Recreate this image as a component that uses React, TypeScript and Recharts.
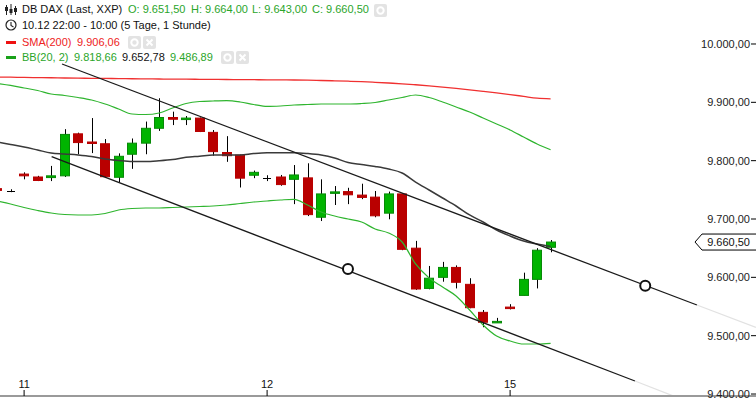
import React from 'react';
import { ComposedChart, Bar, Line, XAxis, YAxis, ReferenceDot, ReferenceLine } from 'recharts';

// hourly candles, DB DAX (Last, XXP)
const opens = [9752, 9748.5, 9777, 9772, 9771, 9774, 9846, 9832, 9829, 9771.5, 9811, 9830, 9855.5, 9874, 9871, 9873, 9848.5, 9814, 9809.5, 9775, 9770, 9772, 9768, 9770.5, 9703, 9745, 9747, 9741, 9737.5, 9710, 9743, 9650, 9581, 9600, 9617, 9588, 9540, 9522, 9549, 9569, 9596.5, 9651.5];
const highs = [9753, 9751, 9780, 9774, 9791, 9854, 9848, 9873, 9837, 9812.5, 9838, 9867, 9907, 9884, 9876.5, 9874, 9852.5, 9842, 9810.5, 9783, 9775, 9775.5, 9792.5, 9795.5, 9768, 9756.5, 9753.5, 9760.5, 9748, 9747, 9743.5, 9662.5, 9619.5, 9626.5, 9620.5, 9598.5, 9544, 9530.5, 9554, 9608, 9650, 9664];
const lows = [9748, 9746, 9768, 9765, 9765, 9772, 9811, 9813, 9771, 9763, 9786, 9811, 9851, 9861, 9861, 9849, 9808.5, 9798, 9754, 9770, 9765, 9757, 9725.5, 9705, 9696.5, 9724, 9725.5, 9734, 9703, 9699.5, 9646.5, 9578.5, 9579.5, 9592.5, 9581, 9547, 9514.5, 9522, 9545, 9569, 9581, 9643];
const closes = [9749, 9748.5, 9774, 9766, 9774, 9845, 9831, 9830, 9772.5, 9807.5, 9830, 9855.5, 9874, 9871, 9873, 9850, 9815.5, 9808.5, 9770, 9780, 9770, 9759, 9775.5, 9707.5, 9743, 9746.5, 9741.5, 9737, 9705.5, 9743, 9648, 9580, 9598.5, 9617, 9591.5, 9548, 9523, 9524.5, 9548.5, 9596.5, 9646.5, 9660.5];

const bbUpper = [9932.3, 9928.9, 9924.6, 9920.3, 9914.3, 9911.7, 9908.3, 9904.0, 9897.1, 9888.6, 9880.0, 9879.1, 9881.7, 9890.3, 9898.0, 9901.4, 9902.3, 9902.8, 9900.6, 9896.3, 9892.9, 9893.7, 9895.4, 9896.3, 9897.1, 9897.1, 9897.1, 9898.0, 9899.7, 9904.0, 9908.3, 9912.6, 9908.3, 9900.6, 9892.0, 9883.4, 9873.1, 9862.9, 9852.6, 9840.6, 9828.6, 9818.66];
const bbMiddle = [9832.0, 9827.7, 9823.4, 9818.3, 9813.1, 9811.4, 9809.7, 9807.1, 9802.9, 9800.3, 9798.6, 9798.6, 9799.9, 9802.0, 9805.8, 9807.7, 9809.7, 9809.7, 9809.7, 9812.3, 9813.7, 9813.7, 9813.7, 9812.3, 9809.7, 9804.6, 9796.9, 9793.4, 9790.0, 9785.7, 9778.9, 9763.4, 9749.7, 9736.0, 9722.3, 9706.9, 9694.9, 9681.1, 9670.9, 9662.3, 9657.1, 9652.78];
const bbLower = [9730.9, 9725.7, 9719.7, 9714.6, 9710.3, 9707.7, 9706.9, 9706.9, 9709.4, 9715.4, 9718.0, 9718.9, 9718.9, 9719.7, 9720.6, 9721.4, 9722.3, 9724.0, 9726.6, 9729.1, 9730.9, 9732.6, 9733.8, 9724.0, 9712.0, 9705.1, 9700.0, 9694.9, 9682.9, 9676.0, 9660.6, 9622.9, 9598.9, 9583.4, 9568.0, 9544.0, 9518.3, 9499.4, 9490.9, 9485.7, 9485.7, 9486.89];
const sma200 = [9943.4, 9943.1, 9942.7, 9942.4, 9942.1, 9941.7, 9941.4, 9941.2, 9940.9, 9940.7, 9940.4, 9940.2, 9940.0, 9939.8, 9939.7, 9939.5, 9939.3, 9939.1, 9939.0, 9938.8, 9938.6, 9938.5, 9938.3, 9937.9, 9937.4, 9936.9, 9936.2, 9935.4, 9934.3, 9933.1, 9931.8, 9930.1, 9928.2, 9926.1, 9923.9, 9921.5, 9918.9, 9916.2, 9913.3, 9910.2, 9907.1, 9906.06];

const dayTicks = [2, 20, 38];
const dayLabels = ['11', '12', '15'];
const priceTicks = [9400, 9500, 9600, 9700, 9800, 9900, 10000];

// hand-drawn trend channel (index, price)
const upperChannel = [{ i: 4.81, p: 9965.7 }, { i: 51.84, p: 9552.6 }];
const upperChannelFade = [{ i: 51.84, p: 9552.6 }, { i: 56.21, p: 9514 }];
const lowerChannel = [{ i: 4.04, p: 9806.8 }, { i: 47.25, p: 9422.3 }];
const lowerChannelFade = [{ i: 47.25, p: 9422.3 }, { i: 52.07, p: 9378.8 }];
const channelHandles = [{ i: 25.99, p: 9614.3 }, { i: 48.01, p: 9585.7 }];

const last = opens.length - 1;
const GREEN_TXT = '#2aa52a';
const RED_TXT = '#ee2222';
const BODY_W = 10;

const rows = opens.map((o, i) => ({
  i,
  open: o,
  high: highs[i],
  low: lows[i],
  close: closes[i],
  range: [lows[i], highs[i]],
  upper: bbUpper[i],
  middle: bbMiddle[i],
  lower: bbLower[i],
  sma: sma200[i],
}));

function fmt(v: number) {
  const [int, dec] = v.toFixed(2).split('.');
  return int.replace(/\B(?=(\d{3})+(?!\d))/g, '.') + ',' + dec;
}

function Candle(props: any) {
  const { x, y, width, height, payload } = props;
  if (x == null || !payload) return null;
  const { open, close, high, low } = payload;
  const top = Math.min(y, y + height);
  const h = Math.abs(height);
  const span = high - low || 1;
  const py = (v: number) => top + ((high - v) / span) * h;
  const cx = Math.round(x + (width || 0) / 2) + 0.5;
  const left = cx - 0.5 - BODY_W / 2;

  if (open === close) {
    const yy = Math.round(py(open)) + 0.5;
    return (
      <g>
        <line x1={cx} x2={cx} y1={py(high)} y2={py(low)} stroke="#000" />
        <line x1={left + 1} x2={left + BODY_W - 1} y1={yy} y2={yy} stroke="#000" />
      </g>
    );
  }
  const up = close > open;
  const bTop = py(Math.max(open, close));
  const bBot = py(Math.min(open, close));
  const bh = Math.max(1.5, bBot - bTop);
  return (
    <g>
      <line x1={cx} x2={cx} y1={py(high)} y2={py(low)} stroke="#000" />
      <rect
        x={left + 0.5}
        y={bTop}
        width={BODY_W - 1}
        height={bh}
        fill={up ? '#00b400' : '#b90000'}
        stroke={up ? '#078a07' : '#b90000'}
        strokeWidth={1}
      />
    </g>
  );
}

function PriceTag(props: any) {
  const vb = props.viewBox || {};
  const y = vb.y;
  const right = vb.x + vb.width;
  if (y == null) return null;
  const tip = right - 61;
  const d = `M${tip},${y} L${tip + 7},${y - 8} L${right + 2},${y - 8} L${right + 2},${y + 8} L${tip + 7},${y + 8} Z`;
  return (
    <g>
      <path d={d} fill="#fff" stroke="#000" strokeWidth={1} />
      <text x={right - 6} y={y} dy="0.36em" textAnchor="end" fontSize={11} fill="#111">
        {fmt(closes[last])}
      </text>
    </g>
  );
}

function Btn({ left, top, kind }: { left: number; top: number; kind: 'ring' | 'x' }) {
  return (
    <svg style={{ position: 'absolute', left, top }} width={13} height={13}>
      <rect x={0} y={0} width={13} height={13} rx={2} fill="#e3e3e3" />
      {kind === 'ring' ? (
        <circle cx={6.5} cy={6.5} r={3.2} fill="none" stroke="#fff" strokeWidth={2} />
      ) : (
        <path d="M3.5,3.5 L9.5,9.5 M9.5,3.5 L3.5,9.5" stroke="#fff" strokeWidth={2} />
      )}
    </svg>
  );
}

function Header() {
  const t = (left: number, top: number, color: string, text: string) => (
    <span style={{ position: 'absolute', left, top, color, whiteSpace: 'nowrap' }}>{text}</span>
  );
  return (
    <div
      style={{
        position: 'absolute',
        left: 0,
        top: 0,
        width: 420,
        height: 70,
        fontSize: 11,
        lineHeight: '16px',
        pointerEvents: 'none',
      }}
    >
      <svg style={{ position: 'absolute', left: 5, top: 4 }} width={12} height={12}>
        <path d="M1.5,1 V11 M6,0 V11 M10.5,2 V11" stroke="#222" strokeWidth={1} />
        <rect x={0} y={3} width={3} height={4} fill="#222" />
        <rect x={4.5} y={5} width={3} height={4} fill="#222" />
        <rect x={9} y={4} width={3} height={4} fill="#222" />
      </svg>
      {t(22, 1, '#111', 'DB DAX (Last, XXP)')}
      {t(128, 1, GREEN_TXT, 'O: ' + fmt(opens[last]))}
      {t(191, 1, GREEN_TXT, 'H: ' + fmt(highs[last]))}
      {t(252, 1, GREEN_TXT, 'L: ' + fmt(lows[last]))}
      {t(312, 1, GREEN_TXT, 'C: ' + fmt(closes[last]))}
      <Btn left={374} top={4} kind="ring" />

      <svg style={{ position: 'absolute', left: 5, top: 19 }} width={12} height={12}>
        <circle cx={6} cy={6} r={5} fill="none" stroke="#222" strokeWidth={1.2} />
        <path d="M6,3 V6.5 L8.5,8" fill="none" stroke="#222" strokeWidth={1.1} />
      </svg>
      {t(22, 17, '#111', '10.12 22:00 - 10:00 (5 Tage, 1 Stunde)')}

      <div style={{ position: 'absolute', left: 6, top: 41, width: 10, height: 3, background: '#ee1111' }} />
      {t(22, 34, RED_TXT, 'SMA(200)')}
      {t(77, 34, RED_TXT, fmt(sma200[last]))}
      <Btn left={128} top={36} kind="ring" />
      <Btn left={143} top={36} kind="x" />

      <div style={{ position: 'absolute', left: 6, top: 56, width: 10, height: 3, background: '#19a119' }} />
      {t(22, 49, GREEN_TXT, 'BB(20, 2)')}
      {t(74, 49, GREEN_TXT, fmt(bbUpper[last]))}
      {t(122, 49, '#111', fmt(bbMiddle[last]))}
      {t(170, 49, GREEN_TXT, fmt(bbLower[last]))}
      <Btn left={221} top={51} kind="ring" />
      <Btn left={236} top={51} kind="x" />
    </div>
  );
}

const lineCommon = { dot: false, activeDot: false, isAnimationActive: false } as const;

export default function App() {
  return (
    <div
      style={{
        position: 'absolute',
        left: 0,
        top: 0,
        width: 756,
        height: 398,
        background: '#fff',
        fontFamily: '"Liberation Sans", Arial, sans-serif',
        overflow: 'hidden',
      }}
    >
      <ComposedChart width={756} height={398} data={rows} margin={{ top: 0, right: 0, left: 0, bottom: 2 }}>
        <XAxis
          dataKey="i"
          type="number"
          domain={[0.215, 56.215]}
          allowDataOverflow
          ticks={dayTicks}
          interval={0}
          tickFormatter={(v: number) => dayLabels[dayTicks.indexOf(v)] ?? ''}
          mirror
          tickSize={6}
          tickMargin={2}
          tickLine={{ stroke: '#000' }}
          axisLine={{ stroke: '#9a9a9a', strokeWidth: 2 }}
          tick={{ fontSize: 11, fill: '#111' }}
        />
        <YAxis
          orientation="right"
          type="number"
          domain={[9396.6, 10075.4]}
          allowDataOverflow
          ticks={priceTicks}
          interval={0}
          tickFormatter={fmt}
          mirror
          width={60}
          tickSize={5}
          tickMargin={1}
          axisLine={false}
          tickLine={{ stroke: '#000' }}
          tick={{ fontSize: 11, fill: '#222' }}
        />
        <Bar dataKey="range" barSize={10} shape={(p: any) => <Candle {...p} />} isAnimationActive={false} />
        <Line dataKey="sma" type="monotone" stroke="#f03030" strokeWidth={1.3} {...lineCommon} />
        <Line dataKey="upper" type="monotone" stroke="#2fb52f" strokeWidth={1.2} {...lineCommon} />
        <Line dataKey="lower" type="monotone" stroke="#2fb52f" strokeWidth={1.2} {...lineCommon} />
        <Line dataKey="middle" type="monotone" stroke="#3a3a3a" strokeWidth={1.5} {...lineCommon} />
        <Line data={upperChannel} dataKey="p" type="linear" stroke="#1a1a1a" strokeWidth={1.3} {...lineCommon} />
        <Line data={upperChannelFade} dataKey="p" type="linear" stroke="#e2e2e2" strokeWidth={1.3} {...lineCommon} />
        <Line data={lowerChannel} dataKey="p" type="linear" stroke="#1a1a1a" strokeWidth={1.3} {...lineCommon} />
        <Line data={lowerChannelFade} dataKey="p" type="linear" stroke="#e2e2e2" strokeWidth={1.3} {...lineCommon} />
        {channelHandles.map((h, k) => (
          <ReferenceDot key={k} x={h.i} y={h.p} r={5} fill="#fff" stroke="#111" strokeWidth={2} />
        ))}
        <ReferenceLine y={closes[last]} stroke="none" ifOverflow="visible" label={<PriceTag />} />
      </ComposedChart>
      <Header />
    </div>
  );
}
